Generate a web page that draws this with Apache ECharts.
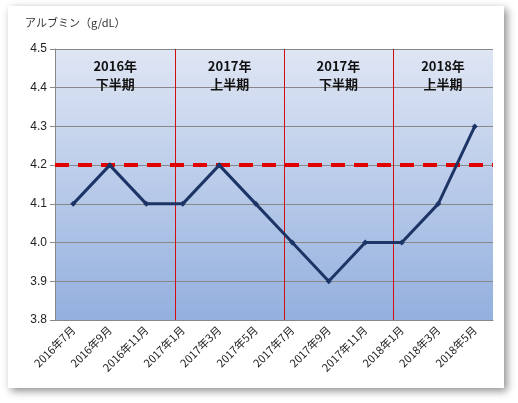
<!DOCTYPE html><html><head><meta charset="utf-8"><script src="https://cdn.jsdelivr.net/npm/echarts@6/dist/echarts.min.js"></script>
<style>body{margin:0;background:#fff}#c{width:518px;height:403px}</style></head><body><div id="c"></div><script>
const categories=['2016年7月','2016年9月','2016年11月','2017年1月','2017年3月','2017年5月','2017年7月','2017年9月','2017年11月','2018年1月','2018年3月','2018年5月'];
const values=[4.1,4.2,4.1,4.1,4.2,4.1,4.0,3.9,4.0,4.0,4.1,4.3];
const target=4.2;
const periods=['2016年\n下半期','2017年\n上半期','2017年\n下半期','2018年\n上半期'];
const dividers=[3.3,6.27,9.26];
const chart=echarts.init(document.getElementById('c'));
const bounds=[0].concat(dividers,[12]);
chart.setOption({
 graphic:[{type:'rect',shape:{x:8,y:6,width:496,height:382},style:{fill:'#fff',shadowBlur:8,shadowColor:'rgba(0,0,0,0.45)',shadowOffsetX:3,shadowOffsetY:3},z:-10}],
 title:{text:'アルブミン（g/dL）',left:20,top:12,textStyle:{fontSize:11,fontWeight:'normal',color:'#333',fontFamily:'Noto Sans CJK JP'}},
 grid:{left:55,right:25,top:49,bottom:83,backgroundColor:{type:'linear',x:0,y:0,x2:0,y2:1,colorStops:[{offset:0,color:'#dfe6f4'},{offset:1,color:'#93b0de'}]},show:true,borderWidth:0},
 xAxis:[{type:'category',data:categories,boundaryGap:true,axisLine:{lineStyle:{color:'#888'}},axisTick:{lineStyle:{color:'#888'}},axisLabel:{rotate:45,fontSize:11,color:'#222',interval:0,fontFamily:'Noto Sans CJK JP'}},
  {type:'value',min:0,max:12,show:false}],
 yAxis:{type:'value',min:3.8,max:4.5,interval:0.1,axisLabel:{formatter:v=>v.toFixed(1),fontSize:12,color:'#222'},axisLine:{show:true,lineStyle:{color:'#888'}},axisTick:{show:true},splitLine:{lineStyle:{color:'#888'}}},
 series:[
  {type:'line',xAxisIndex:1,data:[],z:3,color:'#d01010',
   markLine:{silent:true,symbol:'none',label:{show:false},lineStyle:{color:'#d01010',type:'solid',width:1},data:dividers.map(d=>({xAxis:d,lineStyle:{color:'#d01010',type:'solid',width:1}}))},
   markArea:{silent:true,itemStyle:{color:'transparent'},label:{position:'insideTop',distance:8,fontSize:13,fontWeight:'bold',color:'#111',lineHeight:18,fontFamily:'Noto Sans CJK JP'},
    data:periods.map((p,i)=>[{name:p,xAxis:bounds[i],yAxis:4.5},{xAxis:bounds[i+1],yAxis:3.8}])}},
  {type:'line',data:values,symbol:'diamond',symbolSize:6,lineStyle:{color:'#1c3566',width:3},itemStyle:{color:'#1c3566'},z:5,
   markLine:{silent:true,symbol:'none',label:{show:false},lineStyle:{color:'#e00000',type:[14,9],width:4},data:[{yAxis:target}]}}
 ]});
</script></body></html>
